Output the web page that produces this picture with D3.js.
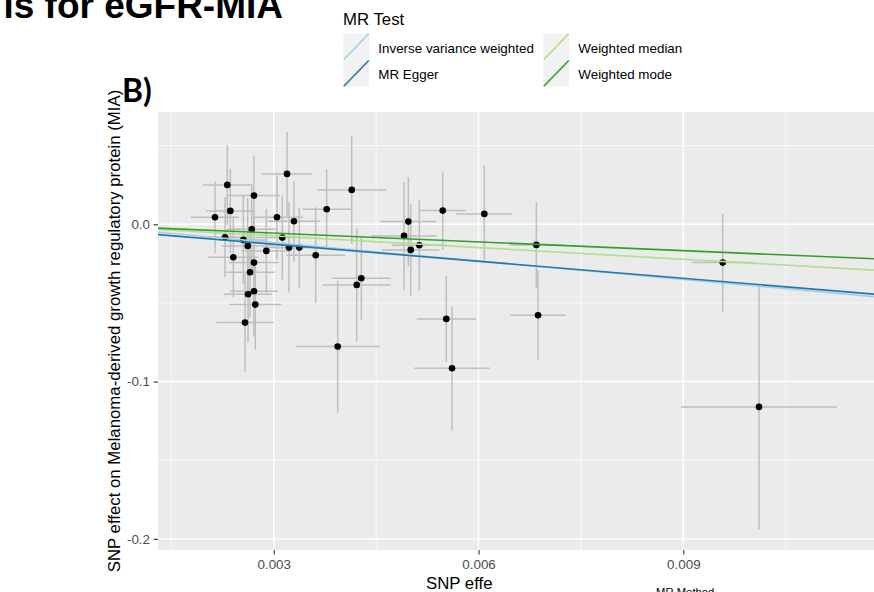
<!DOCTYPE html>
<html>
<head>
<meta charset="utf-8">
<script src="https://cdn.jsdelivr.net/npm/d3@7"></script>
<style>
  html, body { margin: 0; padding: 0; background: #ffffff; }
  svg { display: block; }
  text { font-family: "Liberation Sans", Arial, sans-serif; }
</style>
</head>
<body>
<svg id="chart" width="874" height="592"></svg>
<script>
// ---- data ----
const snpExposure = [0.002320, 0.002711, 0.002364, 0.002140, 0.003195, 0.003048, 0.003297, 0.003776,
  0.002678, 0.002287, 0.002555, 0.002619, 0.003126, 0.002892, 0.003224, 0.003375, 0.003615, 0.002408,
  0.002711, 0.002653, 0.002624, 0.002711, 0.002730, 0.002580, 0.004143, 0.004283, 0.004216, 0.003937,
  0.004972, 0.004909, 0.005007, 0.005133, 0.005476, 0.006085, 0.006847, 0.005528, 0.005612, 0.006872,
  0.009577, 0.010109];
const snpOutcome = [0.02506, 0.01825, 0.00852, 0.00452, 0.03205, 0.00452, 0.00197, 0.0096,
  -0.00312, -0.0082, -0.00992, -0.01374, -0.00846, -0.01692, -0.01482, -0.01482, -0.01965, -0.02092,
  -0.02436, -0.03046, -0.04445, -0.04254, -0.05107, -0.06251, 0.02188, -0.03428, -0.03854, -0.07778,
  0.00172, -0.00738, -0.01628, -0.01329, 0.00871, 0.00661, -0.0131, -0.06016, -0.09151, -0.05781,
  -0.02436, -0.11612];
// half-widths of the horizontal (exposure) and vertical (outcome) error bars
const exposureErr = [0.000359, 0.000381, 0.000352, 0.000352, 0.000372, 0.000381, 0.000381, 0.000352,
  0.000366, 0.000366, 0.000352, 0.000381, 0.000395, 0.000366, 0.000381, 0.000381, 0.000432, 0.000366,
  0.000366, 0.000366, 0.000352, 0.000352, 0.000381, 0.000418, 0.000502, 0.000425, 0.000498, 0.000615,
  0.000406, 0.000476, 0.000420, 0.000403, 0.000337, 0.000410, 0.000395, 0.000432, 0.000552, 0.000406,
  0.000454, 0.001143];
const outcomeErr = [0.0254, 0.0254, 0.0267, 0.0229, 0.0267, 0.0267, 0.0254, 0.0254,
  0.0286, 0.0254, 0.0280, 0.0305, 0.0267, 0.0267, 0.0286, 0.0254, 0.0305, 0.0254,
  0.0286, 0.0286, 0.0305, 0.0286, 0.0286, 0.0312, 0.0343, 0.0267, 0.0362, 0.0420,
  0.0283, 0.0343, 0.0293, 0.0286, 0.0248, 0.0305, 0.0273, 0.0273, 0.0394, 0.0286,
  0.0312, 0.0779];

const methodNames = ["Inverse variance weighted", "MR Egger", "Weighted median", "Weighted mode"];
const methodSlopes = [-3.90, -3.611, -2.47, -1.86];
const methodIntercepts = [0, -0.00184, 0, 0];
const methodColors = ["#a6cee3", "#1f78b4", "#b2df8a", "#33a02c"];

const xTickValues = [0.003, 0.006, 0.009];
const xTickLabels = ["0.003", "0.006", "0.009"];
const yTickValues = [-0.2, -0.1, 0.0];
const yTickLabels = ["-0.2", "-0.1", "0.0"];
const xMinorValues = [0.0015, 0.0045, 0.0075, 0.0105];
const yMinorValues = [-0.15, -0.05, 0.05];

// ---- layout ----
const svg = d3.select("#chart");
const panel = { left: 158, right: 874, top: 112, bottom: 550 };

const x = d3.scaleLinear().domain([0.001305, 0.011793]).range([panel.left, panel.right]);
const y = d3.scaleLinear().domain([0.0714, -0.2071]).range([panel.top, panel.bottom]);

svg.append("rect").attr("width", 874).attr("height", 592).attr("fill", "#ffffff");

// panel background
svg.append("rect")
  .attr("x", panel.left).attr("y", panel.top)
  .attr("width", panel.right - panel.left).attr("height", panel.bottom - panel.top)
  .attr("fill", "#ebebeb");

svg.append("clipPath").attr("id", "panelClip")
  .append("rect")
  .attr("x", panel.left).attr("y", panel.top)
  .attr("width", panel.right - panel.left).attr("height", panel.bottom - panel.top);

const g = svg.append("g").attr("clip-path", "url(#panelClip)");

// grid
g.selectAll(".xminor").data(xMinorValues).enter().append("line")
  .attr("x1", d => x(d)).attr("x2", d => x(d))
  .attr("y1", panel.top).attr("y2", panel.bottom)
  .attr("stroke", "#ffffff").attr("stroke-width", 0.7);
g.selectAll(".yminor").data(yMinorValues).enter().append("line")
  .attr("y1", d => y(d)).attr("y2", d => y(d))
  .attr("x1", panel.left).attr("x2", panel.right)
  .attr("stroke", "#ffffff").attr("stroke-width", 0.7);
g.selectAll(".xmajor").data(xTickValues).enter().append("line")
  .attr("x1", d => x(d)).attr("x2", d => x(d))
  .attr("y1", panel.top).attr("y2", panel.bottom)
  .attr("stroke", "#ffffff").attr("stroke-width", 1.4);
g.selectAll(".ymajor").data(yTickValues).enter().append("line")
  .attr("y1", d => y(d)).attr("y2", d => y(d))
  .attr("x1", panel.left).attr("x2", panel.right)
  .attr("stroke", "#ffffff").attr("stroke-width", 1.4);

const snps = snpExposure.map((v, i) => ({
  bx: v, by: snpOutcome[i], ex: exposureErr[i], ey: outcomeErr[i]
}));

// vertical error bars
g.selectAll(".ebv").data(snps).enter().append("line")
  .attr("x1", d => x(d.bx)).attr("x2", d => x(d.bx))
  .attr("y1", d => y(d.by - d.ey)).attr("y2", d => y(d.by + d.ey))
  .attr("stroke", "#bebebe").attr("stroke-width", 1.5);
// horizontal error bars
g.selectAll(".ebh").data(snps).enter().append("line")
  .attr("y1", d => y(d.by)).attr("y2", d => y(d.by))
  .attr("x1", d => x(d.bx - d.ex)).attr("x2", d => x(d.bx + d.ex))
  .attr("stroke", "#bebebe").attr("stroke-width", 1.5);
// points
g.selectAll(".pt").data(snps).enter().append("circle")
  .attr("cx", d => x(d.bx)).attr("cy", d => y(d.by))
  .attr("r", 3.3).attr("fill", "#000000");

// method lines
const xd = x.domain();
methodNames.forEach((m, i) => {
  g.append("line")
    .attr("x1", x(xd[0])).attr("y1", y(methodIntercepts[i] + methodSlopes[i] * xd[0]))
    .attr("x2", x(xd[1])).attr("y2", y(methodIntercepts[i] + methodSlopes[i] * xd[1]))
    .attr("stroke", methodColors[i]).attr("stroke-width", 1.6);
});

// axes
const yAxis = d3.axisLeft(y).tickValues(yTickValues)
  .tickFormat((d, i) => yTickLabels[i]).tickSize(4.4).tickPadding(3.6);
const ya = svg.append("g").attr("transform", `translate(${panel.left},0)`).call(yAxis);
ya.select(".domain").remove();
ya.selectAll("line").attr("stroke", "#333333").attr("stroke-width", 1.1);
ya.selectAll("text").attr("fill", "#4d4d4d").style("font-size", "13.4px")
  .style("font-family", "'Liberation Sans', Arial, sans-serif");

const xAxis = d3.axisBottom(x).tickValues(xTickValues)
  .tickFormat((d, i) => xTickLabels[i]).tickSize(4.4).tickPadding(5.4);
const xa = svg.append("g").attr("transform", `translate(0,${panel.bottom})`).call(xAxis);
xa.select(".domain").remove();
xa.selectAll("line").attr("stroke", "#333333").attr("stroke-width", 1.1);
xa.selectAll("text").attr("fill", "#4d4d4d").style("font-size", "13.4px")
  .style("font-family", "'Liberation Sans', Arial, sans-serif");

// axis titles
svg.append("text")
  .attr("transform", `translate(119.5,${(panel.top + panel.bottom) / 2}) rotate(-90)`)
  .attr("text-anchor", "middle")
  .style("font-size", "16.8px").attr("fill", "#000000")
  .text("SNP effect on Melanoma-derived growth regulatory protein (MIA)");

svg.append("text")
  .attr("x", 426).attr("y", 588.5)
  .style("font-size", "16.8px").attr("fill", "#000000")
  .text("SNP effe");

svg.append("text")
  .attr("x", 656).attr("y", 595.5)
  .style("font-size", "11.3px").attr("fill", "#000000")
  .text("MR Method");

// legend
svg.append("text").attr("x", 343).attr("y", 25)
  .style("font-size", "16.8px").attr("fill", "#000000").text("MR Test");

const legendCols = [343.3, 543.3];
const legendRows = [33.3, 60];
const keyW = 26, keyH = 26.7;
methodNames.forEach((m, i) => {
  const cx = legendCols[Math.floor(i / 2)];
  const ry = legendRows[i % 2];
  svg.append("rect").attr("x", cx).attr("y", ry).attr("width", keyW).attr("height", keyH)
    .attr("fill", "#f2f2f2");
  svg.append("line")
    .attr("x1", cx + 0.5).attr("y1", ry + keyH - 0.5)
    .attr("x2", cx + keyW - 0.5).attr("y2", ry + 0.5)
    .attr("stroke", methodColors[i]).attr("stroke-width", 1.6);
  svg.append("text").attr("x", cx + 35).attr("y", ry + 19.3)
    .style("font-size", "13.4px").attr("fill", "#000000").text(m);
});

// figure title fragment and panel label
svg.append("text")
  .attr("x", 283).attr("y", 17.5).attr("text-anchor", "end")
  .style("font-size", "37px").style("font-weight", "bold").attr("fill", "#000000")
  .text("is for eGFR-MIA");

svg.append("text")
  .attr("x", 122).attr("y", 102)
  .style("font-family", "Lato, 'Open Sans', sans-serif")
  .style("font-size", "32px").style("font-weight", "bold").attr("fill", "#000000")
  .text("B)");
</script>
</body>
</html>
